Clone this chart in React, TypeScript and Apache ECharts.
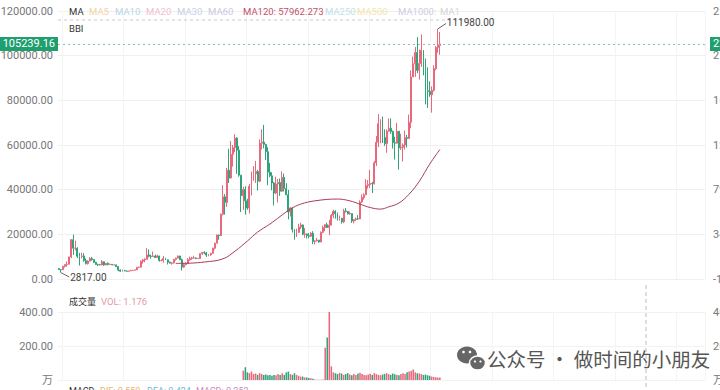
import React, { useEffect, useRef } from 'react';
import * as echarts from 'echarts';

// Half-month candles, Sep 2017 .. Jun 2025 (close / high / low)
const firstOpen = 4700;
const closes = [
  4200, 4150, 5700, 6450, 6600, 9900, 17600, 13800,
  13800, 10200, 10100, 10300, 8200, 6900, 8000, 9200, 8700, 7500, 6500, 6400, 6300, 7750, 6300, 7000, 6500, 6600, 6300, 6300, 5600, 4000, 3500, 3700,
  3600, 3450, 3600, 3800, 3950, 4100, 5100, 5300, 8000, 8550, 8800, 10800, 10200, 10100, 10300, 9600, 10300, 8300, 8300, 9200, 8600, 7550, 7100, 7200,
  8800, 9350, 10300, 8600, 5350, 6400, 6850, 8600, 9300, 9450, 9450, 9150, 9200, 11350, 11900, 11650, 10700, 10800, 11500, 13800, 16000, 19700, 19400, 29000,
  36800, 34300, 48700, 45200, 55800, 58800, 63100, 57700, 46500, 37300, 40100, 35000, 31800, 41500, 47000, 47100, 48100, 43800, 60800, 61300, 60300, 57000, 47800, 46200,
  43000, 38500, 42500, 43200, 39300, 45500, 40500, 37700, 30000, 31800, 22200, 19300, 20800, 23300, 24200, 20050, 20200, 19400, 19150, 20500, 16800, 17100, 17400, 16550,
  20900, 23100, 24300, 23100, 24100, 28500, 30300, 29200, 27000, 27200, 25600, 30500, 30300, 29200, 29300, 25950, 26600, 26950, 26900, 34500, 36500, 37700, 41900, 42300,
  42800, 42600, 52000, 61200, 69500, 71300, 63400, 60600, 66200, 67500, 66000, 61000, 60800, 66200, 58700, 59000, 60000, 63300, 62900, 70200, 90500, 96400, 101400, 93400,
  96500, 102400, 97500, 84300, 84000, 82500, 84500, 94200, 103700, 104600, 105239.16,
];
const highs = [
  4980, 4400, 5850, 6470, 7880, 10000, 17900, 19870,
  17200, 14200, 11700, 11800, 11600, 9200, 8400, 9750, 9900, 8800, 7750, 6800, 6800, 8500, 7800, 7100, 7400, 6900, 6700, 6600, 6500, 5600, 4300, 4200,
  4100, 3700, 3700, 4200, 3980, 4150, 5450, 5600, 8300, 8900, 9300, 13800, 13200, 10900, 12300, 10900, 10900, 10400, 8800, 10350, 9500, 8700, 7800, 7500,
  8900, 9550, 10500, 10400, 9200, 7000, 7450, 9400, 10000, 9950, 10400, 9650, 9450, 11450, 12100, 12450, 12100, 11150, 11700, 14000, 16300, 19900, 19900, 29300,
  42000, 38000, 49700, 58300, 61800, 60000, 64800, 63500, 59500, 46500, 41300, 41500, 35900, 42500, 48100, 50500, 52900, 48800, 62500, 67000, 69000, 60500, 59000, 52000,
  47800, 43500, 45800, 44800, 45000, 48200, 47200, 42900, 39900, 32200, 32000, 22000, 22500, 24700, 25200, 24400, 22800, 20300, 20500, 21000, 21400, 17300, 18400, 17500,
  21300, 23900, 24600, 25200, 26500, 29200, 31000, 30800, 29800, 28400, 27400, 31400, 31800, 30300, 30200, 29400, 26800, 27500, 28600, 35200, 37900, 38400, 44700, 44300,
  48900, 43500, 52800, 64000, 73800, 71600, 72700, 67000, 66900, 71900, 71900, 66500, 63700, 69900, 65500, 65000, 60700, 66500, 64500, 73600, 93400, 99600, 103900, 108300,
  102700, 109500, 102500, 98700, 94800, 88500, 86300, 95700, 104300, 111980, 110600,
];
const lows = [
  4100, 2817, 4150, 5100, 5500, 6600, 9400, 10800,
  12800, 9400, 6000, 9300, 7800, 6500, 6450, 7900, 8200, 7100, 6300, 5750, 6100, 6300, 5900, 6200, 6100, 6300, 6200, 6250, 5300, 3500, 3200, 3300,
  3500, 3350, 3400, 3600, 3750, 3950, 4100, 5050, 5300, 6900, 7500, 8800, 9700, 9100, 9900, 9400, 9600, 7750, 7900, 7300, 8500, 6500, 7000, 6450,
  6900, 8250, 9200, 8450, 3800, 5000, 6200, 6750, 8100, 8600, 9000, 8900, 9000, 9100, 10700, 11100, 9900, 10150, 10400, 11400, 13200, 16000, 17600, 19300,
  28500, 28800, 32300, 43000, 45000, 50300, 56800, 47100, 45800, 30000, 31000, 28800, 31000, 29300, 37400, 44000, 43000, 39600, 43300, 58000, 58500, 53300, 42000, 45600,
  39700, 32900, 38000, 34300, 37200, 39000, 39200, 37600, 26700, 28000, 20800, 17600, 18800, 20800, 22400, 19600, 18500, 18150, 18200, 18900, 15600, 15500, 16800, 16300,
  16500, 20500, 21400, 22800, 19600, 24100, 27200, 27000, 26200, 26100, 24800, 25000, 29700, 28900, 28700, 25100, 24900, 26000, 26500, 26800, 34100, 35500, 37600, 40500,
  40800, 38500, 42300, 50600, 59000, 60800, 60900, 59600, 56500, 66000, 65000, 58400, 53500, 63400, 49000, 57800, 52600, 58000, 58900, 65500, 67500, 90800, 90500, 92200,
  89300, 95000, 91200, 78200, 76600, 81600, 74500, 83900, 93500, 101300, 100400,
];

// Volume (万), starting at candle index volStart
const volStart = 90;
const volumes = [
  55, 75, 45, 40, 50, 35, 38, 30, 40, 35, 30,
  32, 28, 30, 25, 30, 28, 35, 30, 40, 30,
  45, 50, 35, 30, 40, 30, 25, 20,
  20, 15, 15, 12, 10, 8,
  3, 2, 2, 2, 3, 190, 250, 400, 80,
  45, 40, 35, 42, 38, 30, 35, 40, 32, 28, 35, 30, 38, 42, 35, 30, 28, 33, 36, 30, 40, 35, 30, 28, 32, 36, 40, 35, 30, 38, 34, 30, 28, 35, 40, 36, 45, 50, 55, 62, 45, 40, 38, 35, 30, 32, 28, 25, 20, 18, 16, 15, 14,
];

// MA120 read at sampled candle indices
const maIdx = [57, 64, 71, 80, 86, 92, 97, 103, 108, 113, 118, 125, 136, 142, 147, 152, 157, 161, 166, 171, 176, 181, 186];
const maVal = [7000, 7100, 7600, 9000, 12500, 17000, 21000, 24600, 28000, 31300, 33500, 35000, 35800, 35000, 33500, 32000, 31300, 32300, 34000, 38000, 43800, 51400, 57962.273];

const pctBase = 4454;
const totalSlots = 316;
const maxPoint = { idx: 185, value: 111980 };
const minPoint = { idx: 1, value: 2817 };

const FONT = 'Roboto, "Noto Sans CJK SC", sans-serif';
const CJK = '"Noto Sans CJK SC", sans-serif';
const UP = '#e8687c';
const DOWN = '#2fa47a';

export default function App() {
  const ref = useRef<HTMLDivElement>(null);
  useEffect(() => {
    if (!ref.current) return;
    const chart = echarts.init(ref.current, undefined, { renderer: 'svg' });
    const n = closes.length;
    const cats: string[] = [];
    for (let i = 0; i < totalSlots; i++) {
      const m = 8 + Math.floor(i / 2);
      const y = 2017 + Math.floor(m / 12);
      const mm = (m % 12) + 1;
      cats.push(`${y}/${mm < 10 ? '0' + mm : mm}/${i % 2 === 0 ? '01' : '16'}`);
    }
    const opens: number[] = [];
    const candles: number[][] = [];
    for (let i = 0; i < n; i++) {
      const o = i === 0 ? firstOpen : closes[i - 1];
      const c = closes[i];
      opens.push(o);
      candles.push([o, c, Math.min(lows[i], o, c), Math.max(highs[i], o, c)]);
    }
    const ma: (number | null)[] = new Array(n).fill(null);
    maIdx.forEach((k, j) => { ma[k] = maVal[j]; });
    const vol: any[] = new Array(n).fill(null);
    volumes.forEach((v, j) => {
      const k = volStart + j;
      vol[k] = { value: v, itemStyle: { color: closes[k] >= opens[k] ? UP : DOWN } };
    });
    const last = closes[n - 1];
    const pct = (v: number) => ((v / pctBase - 1) * 100).toFixed(2) + '%';
    const splitX = { show: true, interval: (i: number) => i % 30 === 2, lineStyle: { color: '#f4f4f4', width: 1 } };
    const baseX = {
      type: 'category', data: cats, boundaryGap: true,
      axisLine: { show: false }, axisTick: { show: false }, axisLabel: { show: false },
      splitLine: splitX,
    };
    const lbl = { color: '#777', fontSize: 11, fontFamily: FONT };

    const legend1 = [
      { t: 'MA', x: 69, c: '#333' },
      { t: 'MA5', x: 89, c: '#f3d3a6' },
      { t: 'MA10', x: 115, c: '#b7d6ea' },
      { t: 'MA20', x: 146, c: '#f2bfcd' },
      { t: 'MA30', x: 177, c: '#c6cfe9' },
      { t: 'MA60', x: 208, c: '#c9c8e3' },
      { t: 'MA120: 57962.273', x: 243, c: '#c4516a' },
      { t: 'MA250', x: 325, c: '#bfe3eb' },
      { t: 'MA500', x: 357, c: '#f4e5ae' },
      { t: 'MA1000:', x: 398, c: '#cfcbe5' },
      { t: 'MA1', x: 440, c: '#d6d6d6' },
    ];
    const txt = (t: string, x: number, y: number, c: string, fs = 9.5, va = 'middle', ff = FONT) => ({
      type: 'text', x, y, silent: true, z: 10,
      style: { text: t, fill: c, fontSize: fs, fontFamily: ff, verticalAlign: va },
    });

    chart.setOption({
      animation: false,
      backgroundColor: '#fff',
      textStyle: { fontFamily: FONT },
      grid: [
        { left: 58, right: 15, top: 11, height: 268, outerBoundsMode: 'none', containLabel: false },
        { left: 58, right: 15, top: 312, height: 68, outerBoundsMode: 'none', containLabel: false },
      ],
      xAxis: [
        { ...baseX, gridIndex: 0 },
        { ...baseX, gridIndex: 1 },
      ],
      yAxis: [
        {
          type: 'value', gridIndex: 0, min: 0, max: 120000, interval: 20000, position: 'left',
          axisLine: { show: false }, axisTick: { show: false },
          axisLabel: { ...lbl, margin: 5, formatter: (v: number) => v.toFixed(2) },
          splitLine: { lineStyle: { color: '#efefef' } },
        },
        {
          type: 'value', gridIndex: 0, min: 0, max: 120000, interval: 20000, position: 'right',
          axisLine: { show: false }, axisTick: { show: false },
          axisLabel: { ...lbl, margin: 8, formatter: (v: number) => pct(v) },
          splitLine: { show: false },
        },
        {
          type: 'value', gridIndex: 1, min: 0, max: 400, interval: 200, position: 'left',
          axisLine: { show: false }, axisTick: { show: false },
          axisLabel: { ...lbl, margin: 5, formatter: (v: number) => (v === 0 ? '万' : v.toFixed(2)) },
          splitLine: { lineStyle: { color: '#f2f2f2' } },
        },
        {
          type: 'value', gridIndex: 1, min: 0, max: 400, interval: 200, position: 'right',
          axisLine: { show: false }, axisTick: { show: false },
          axisLabel: { ...lbl, margin: 8, formatter: (v: number) => (v === 0 ? '万' : v.toFixed(2)) },
          splitLine: { show: false },
        },
      ],
      series: [
        {
          type: 'candlestick', xAxisIndex: 0, yAxisIndex: 0, data: candles,
          barWidth: '70%',
          itemStyle: { color: UP, color0: DOWN, borderColor: UP, borderColor0: DOWN, borderWidth: 1 },
          markLine: {
            silent: true, symbol: 'none', animation: false,
            data: [
              {
                yAxis: last,
                lineStyle: { type: [2, 3], color: '#8fbfaa', width: 1 },
                label: {
                  position: 'start', distance: 0, formatter: last.toFixed(2),
                  backgroundColor: '#1f9e6e', color: '#fff', fontSize: 11, padding: [2, 3, 1, 3], fontFamily: FONT,
                },
              },
              {
                yAxis: last,
                lineStyle: { type: [2, 3], color: '#8fbfaa', width: 1 },
                label: {
                  position: 'end', distance: 5, formatter: pct(last),
                  backgroundColor: '#1f9e6e', color: '#fff', fontSize: 11, padding: [2, 3, 1, 3], fontFamily: FONT,
                },
              },
              [
                { coord: [maxPoint.idx, maxPoint.value], lineStyle: { type: 'solid', color: '#666', width: 1 } },
                {
                  coord: [maxPoint.idx + 4, 114400],
                  label: { position: 'end', distance: 1, formatter: maxPoint.value.toFixed(2), color: '#444', fontSize: 10, fontFamily: FONT },
                },
              ],
              [
                { coord: [minPoint.idx, minPoint.value], lineStyle: { type: 'solid', color: '#666', width: 1 } },
                {
                  coord: [minPoint.idx + 4, 900],
                  label: { position: 'end', distance: 1, formatter: minPoint.value.toFixed(2), color: '#444', fontSize: 10, fontFamily: FONT },
                },
              ],
            ],
          },
        },
        {
          type: 'line', xAxisIndex: 0, yAxisIndex: 0, data: ma, connectNulls: true, smooth: 0.4,
          showSymbol: false, z: 3, lineStyle: { color: '#a63d54', width: 1 },
        },
        {
          type: 'bar', xAxisIndex: 1, yAxisIndex: 2, data: vol, barWidth: '75%',
        },
      ],
      graphic: [
        ...legend1.map((l) => txt(l.t, l.x, 11, l.c)),
        txt('BBI', 69, 28, '#333'),
        { type: 'line', silent: true, z: 1, shape: { x1: 58, y1: 20, x2: 470, y2: 20 }, style: { stroke: '#c8c8c8', lineWidth: 1, lineDash: [3, 3] } },
        txt('成交量', 69, 301, '#333', 9, 'middle', CJK),
        txt('VOL: 1.176', 101, 301, '#e39aa8', 9.5),
        txt('MACD', 69, 386, '#333', 9, 'top'),
        txt('DIF: 0.550', 100, 386, '#f0b36c', 9, 'top'),
        txt('DEA: 0.424', 147, 386, '#6cbdd0', 9, 'top'),
        txt('MACD: 0.252', 196, 386, '#cf8bcb', 9, 'top'),
        { type: 'line', silent: true, z: 1, shape: { x1: 646, y1: 285, x2: 646, y2: 390 }, style: { stroke: '#bdbdbd', lineWidth: 1, lineDash: [4, 3] } },
        // watermark
        { type: 'ellipse', silent: true, z: 20, shape: { cx: 467, cy: 355, rx: 10, ry: 8.5 }, style: { fill: '#666' } },
        { type: 'ellipse', silent: true, z: 21, shape: { cx: 477.5, cy: 363, rx: 8, ry: 7 }, style: { fill: '#666', stroke: '#fff', lineWidth: 1.5 } },
        { type: 'circle', silent: true, z: 22, shape: { cx: 463.5, cy: 352, r: 1.3 }, style: { fill: '#fff' } },
        { type: 'circle', silent: true, z: 22, shape: { cx: 470, cy: 352, r: 1.3 }, style: { fill: '#fff' } },
        { type: 'circle', silent: true, z: 22, shape: { cx: 475, cy: 361.5, r: 1.1 }, style: { fill: '#fff' } },
        { type: 'circle', silent: true, z: 22, shape: { cx: 480.5, cy: 361.5, r: 1.1 }, style: { fill: '#fff' } },
        txt('公众号 · 做时间的小朋友', 487, 358, '#555', 19.5, 'middle', CJK),
      ],
    });
    return () => chart.dispose();
  }, []);
  return (
    <div
      ref={ref}
      style={{ position: 'fixed', left: 0, top: 0, width: 720, height: 390, background: '#fff', overflow: 'hidden' }}
    />
  );
}
